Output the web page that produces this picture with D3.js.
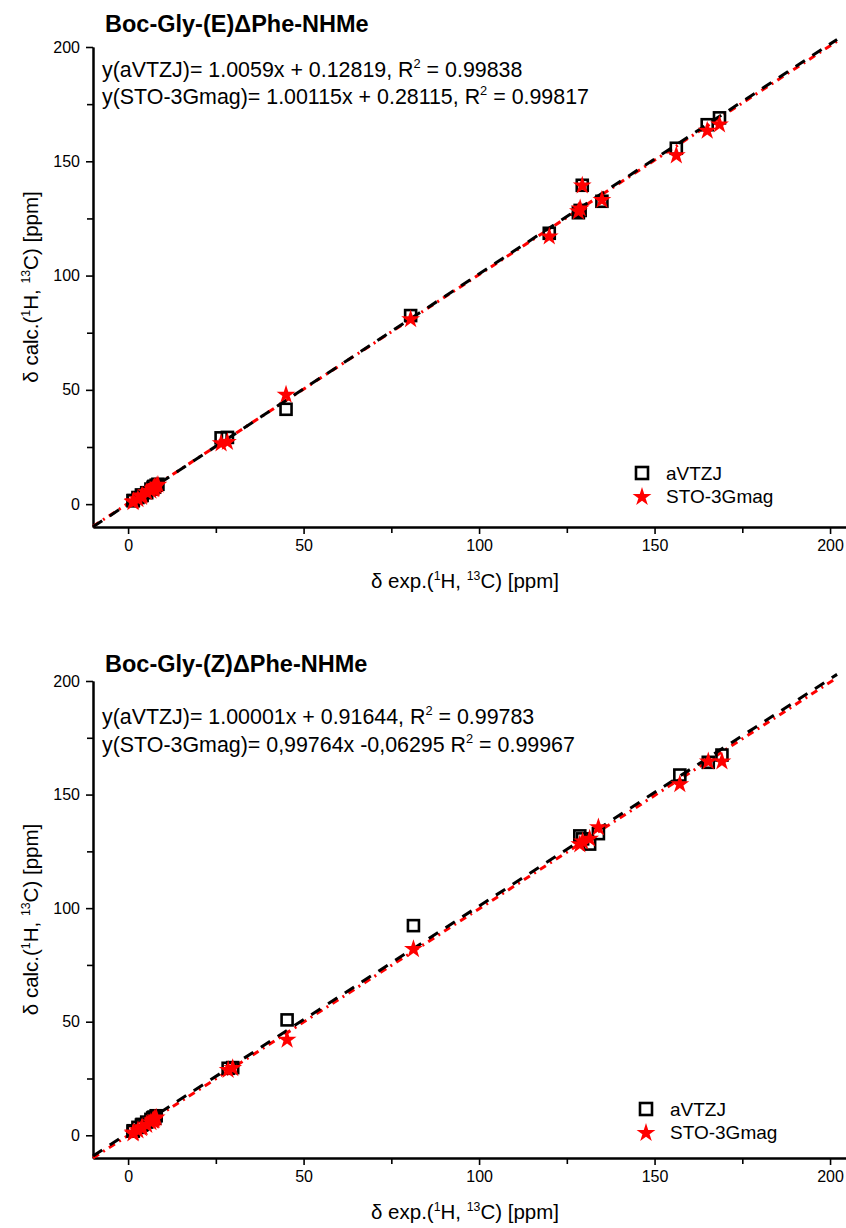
<!DOCTYPE html>
<html>
<head>
<meta charset="utf-8">
<script src="https://cdn.jsdelivr.net/npm/d3@7"></script>
<style>
  body { margin: 0; background: #fff; }
  svg { display: block; font-family: "Liberation Sans", Arial, sans-serif; }
</style>
</head>
<body>
<svg id="chart" width="846" height="1228"></svg>
<script>
// Experimental vs calculated shifts, (E) isomer
var expE    = [1.4, 1.5, 2.8, 3.8, 4.0, 5.3, 6.5, 7.1, 7.3, 7.4, 7.5, 8.0, 8.5,
               26.5, 28.3, 45.0, 80.5, 120.0, 128.3, 128.8, 129.4, 135.0, 156.2, 165.0, 168.5];
var aVTZJ_E = [1.5, 1.6, 2.9, 4.0, 3.8, 5.0, 6.6, 7.3, 7.6, 7.8, 7.5, 8.3, 8.7,
               29.0, 29.2, 41.5, 82.5, 118.5, 127.5, 128.5, 139.5, 132.5, 155.7, 166.0, 169.0];
var sto_E   = [1.3, 1.7, 2.6, 3.6, 4.2, 5.6, 6.3, 7.0, 7.2, 7.5, 7.9, 8.4, 8.9,
               27.0, 27.6, 48.3, 81.3, 117.5, 128.5, 129.8, 139.8, 133.5, 153.0, 163.8, 166.5];

// (Z) isomer
var expZ    = [1.4, 1.5, 2.8, 3.8, 4.0, 5.3, 6.5, 7.0, 7.2, 7.4, 7.6, 8.0,
               28.5, 29.8, 45.3, 81.3, 128.7, 129.5, 131.5, 134.0, 157.2, 165.3, 169.2];
var aVTZJ_Z = [1.8, 2.0, 3.5, 4.5, 4.8, 5.8, 7.0, 7.6, 7.8, 8.0, 7.5, 8.6,
               29.5, 29.8, 50.8, 92.3, 131.8, 130.5, 128.2, 132.8, 158.6, 164.2, 167.4];
var sto_Z   = [1.2, 1.6, 2.6, 3.5, 4.0, 5.0, 6.2, 6.8, 7.0, 7.2, 7.8, 8.2,
               29.2, 30.0, 42.5, 82.4, 128.5, 129.8, 131.0, 136.0, 155.0, 165.0, 165.0];

// linear fits [slope, intercept]
var fitE = {aVTZJ: [1.0059, 0.12819], sto: [1.00115, 0.28115]};
var fitZ = {aVTZJ: [1.00001, 0.91644], sto: [0.99764, -0.06295]};

var majorTicks = [0, 50, 100, 150, 200];
var minorTicks = [25, 75, 125, 175];

var svg = d3.select("#chart");

function supText(sel, parts) {
    // parts: array of [text, isSup]
    parts.forEach(function (p) {
        var t = sel.append("tspan").text(p[0]);
        if (p[1]) t.attr("font-size", "0.6em").attr("baseline-shift", "70%");
    });
}

function drawPanel(cfg) {
    var x = d3.scaleLinear().domain([-10, 205]).range([93, 847.6]);
    var y = d3.scaleLinear().domain([-10, 200]).range([cfg.bottom, cfg.top]);
    var g = svg.append("g");

    // axes
    var xAxis = d3.axisBottom(x).tickValues(majorTicks).tickSize(7).tickSizeOuter(0).tickPadding(6);
    var gx = g.append("g").attr("transform", "translate(0," + cfg.bottom + ")").call(xAxis);
    gx.append("g").call(d3.axisBottom(x).tickValues(minorTicks).tickSize(6).tickFormat("").tickSizeOuter(0));

    var yAxis = d3.axisLeft(y).tickValues(majorTicks).tickSize(7).tickSizeOuter(0).tickPadding(6);
    var gy = g.append("g").attr("transform", "translate(93,0)").call(yAxis);
    gy.append("g").call(d3.axisLeft(y).tickValues(minorTicks).tickSize(6).tickFormat("").tickSizeOuter(0));

    g.selectAll(".domain").attr("stroke", "#000").attr("stroke-width", 2);
    g.selectAll(".tick line").attr("stroke", "#000").attr("stroke-width", 1.6);
    g.selectAll(".tick text").attr("font-size", 16).attr("fill", "#000")
        .attr("font-family", "Liberation Sans, Arial, sans-serif");

    // axis titles
    var xl = g.append("text").attr("x", 465).attr("y", cfg.bottom + 61)
        .attr("text-anchor", "middle").attr("font-size", 20.5);
    supText(xl, [["\u03b4 exp.(", 0], ["1", 1], ["H, ", 0], ["13", 1], ["C) [ppm]", 0]]);

    var yl = g.append("text")
        .attr("transform", "translate(38," + ((cfg.top + cfg.bottom) / 2) + ") rotate(-90)")
        .attr("text-anchor", "middle").attr("font-size", 20.5);
    supText(yl, [["\u03b4 calc.(", 0], ["1", 1], ["H, ", 0], ["13", 1], ["C) [ppm]", 0]]);

    // title and equations
    g.append("text").attr("x", 105).attr("y", cfg.titleY)
        .attr("font-size", 23.5).attr("font-weight", "bold").text(cfg.title);
    cfg.eqs.forEach(function (e, i) {
        var t = g.append("text").attr("x", 102).attr("y", cfg.eqY[i]).attr("font-size", 21.4);
        supText(t, [[e[0], 0], ["2", 1], [e[1], 0]]);
    });

    // fit lines
    var line = d3.line().x(function (d) { return x(d[0]); }).y(function (d) { return y(d[1]); });
    var xs = [-10, 202];
    g.append("path")
        .attr("d", line(xs.map(function (v) { return [v, cfg.fit.sto[0] * v + cfg.fit.sto[1]]; })))
        .attr("fill", "none").attr("stroke", "#ff0000").attr("stroke-width", 3)
        .attr("stroke-dasharray", "7,5,2,5");
    g.append("path")
        .attr("d", line(xs.map(function (v) { return [v, cfg.fit.aVTZJ[0] * v + cfg.fit.aVTZJ[1]]; })))
        .attr("fill", "none").attr("stroke", "#000").attr("stroke-width", 3)
        .attr("stroke-dasharray", "11,9");

    // points
    var sq = 11;
    g.append("g").selectAll("rect")
        .data(cfg.exp.map(function (v, i) { return [v, cfg.a[i]]; }))
        .enter().append("rect")
        .attr("x", function (d) { return x(d[0]) - sq / 2; })
        .attr("y", function (d) { return y(d[1]) - sq / 2; })
        .attr("width", sq).attr("height", sq)
        .attr("fill", "none").attr("stroke", "#000").attr("stroke-width", 2.6);

    var star = d3.symbol().type(d3.symbolStar).size(110);
    g.append("g").selectAll("path")
        .data(cfg.exp.map(function (v, i) { return [v, cfg.s[i]]; }))
        .enter().append("path")
        .attr("d", star)
        .attr("transform", function (d) { return "translate(" + x(d[0]) + "," + (y(d[1]) + 1) + ")"; })
        .attr("fill", "#ff0000");

    // legend
    var lg = g.append("g").attr("transform", "translate(" + cfg.legend[0] + "," + cfg.legend[1] + ")");
    lg.append("rect").attr("x", -6).attr("y", -6).attr("width", 12).attr("height", 12)
        .attr("fill", "none").attr("stroke", "#000").attr("stroke-width", 2.6);
    lg.append("text").attr("x", 24).attr("y", 7).attr("font-size", 19).text("aVTZJ");
    lg.append("path").attr("d", star).attr("transform", "translate(0,24)").attr("fill", "#ff0000");
    lg.append("text").attr("x", 24).attr("y", 30).attr("font-size", 19).text("STO-3Gmag");
}

drawPanel({
    title: "Boc-Gly-(E)\u0394Phe-NHMe",
    top: 47, bottom: 527, titleY: 32, eqY: [77, 104],
    eqs: [["y(aVTZJ)= 1.0059x + 0.12819, R", " = 0.99838"],
          ["y(STO-3Gmag)= 1.00115x + 0.28115, R", " = 0.99817"]],
    fit: fitE, exp: expE, a: aVTZJ_E, s: sto_E,
    legend: [642, 473]
});

drawPanel({
    title: "Boc-Gly-(Z)\u0394Phe-NHMe",
    top: 681, bottom: 1158, titleY: 672, eqY: [724, 752],
    eqs: [["y(aVTZJ)= 1.00001x + 0.91644, R", " = 0.99783"],
          ["y(STO-3Gmag)= 0,99764x -0,06295 R", " = 0.99967"]],
    fit: fitZ, exp: expZ, a: aVTZJ_Z, s: sto_Z,
    legend: [646, 1109]
});
</script>
</body>
</html>
